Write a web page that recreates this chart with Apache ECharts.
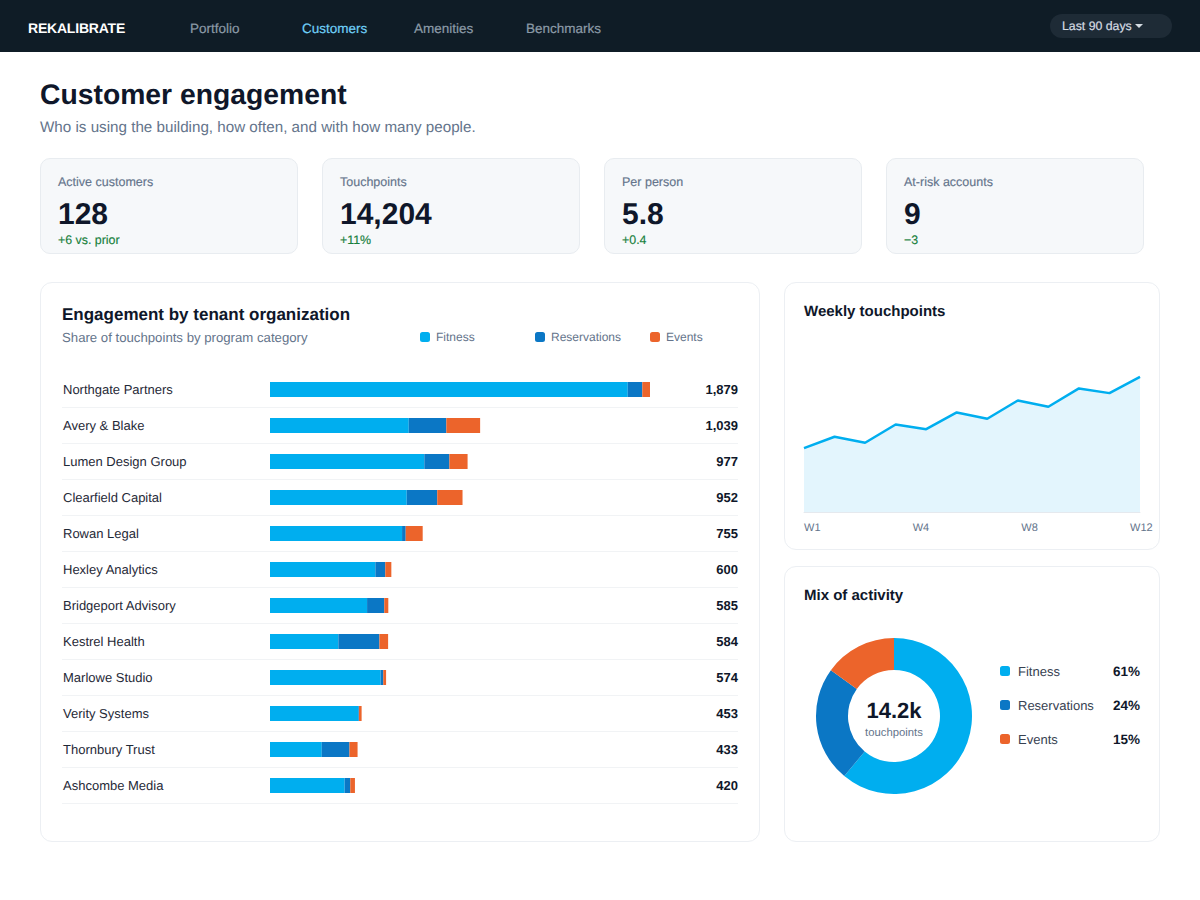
<!DOCTYPE html>
<html>
<head>
<meta charset="utf-8">
<title>Customer engagement</title>
<script src="https://cdn.jsdelivr.net/npm/echarts@6/dist/echarts.min.js"></script>
<style>
    html, body { margin: 0; padding: 0; background: #fff; }
    body { position: relative; width: 1200px; height: 900px; overflow: hidden; font-family: "Liberation Sans", Arial, sans-serif; color: #0f172a; text-rendering: geometricPrecision; }
    .abs { position: absolute; white-space: nowrap; }
    .nav { position: absolute; left: 0; top: 0; width: 1200px; height: 52px; background: #0f1c26; }
    .logo { left: 28px; top: 20px; font-size: 14px; line-height: 16px; font-weight: 700; color: #fff; letter-spacing: -0.2px; }
    .link { top: 21px; font-size: 13.5px; line-height: 15px; color: #8b9aa6; -webkit-text-stroke: 0.2px; }
    .link.on { color: #6fd0f7; }
    .pill { left: 1050px; top: 14px; width: 122px; height: 24px; border-radius: 12px; background: #1e2b36; }
    .pill span { position: absolute; left: 12px; top: 5px; font-size: 12.3px; line-height: 14px; color: #d5dce2; -webkit-text-stroke: 0.2px; }
    .pill i { position: absolute; left: 85px; top: 10px; width: 0; height: 0; border-left: 4px solid transparent; border-right: 4px solid transparent; border-top: 4px solid #d5dce2; }
    h1 { margin: 0; left: 40px; top: 78px; font-size: 28.3px; line-height: 32px; font-weight: 700; color: #0f172a; }
    .sub { left: 40px; top: 119px; font-size: 15.2px; line-height: 17px; color: #64748b; }
    .kpi { position: absolute; top: 158px; width: 256px; height: 94px; background: #f6f8fa; border: 1px solid #e8ecf0; border-radius: 10px; }
    .kpi .l { left: 17px; top: 16px; font-size: 12.5px; line-height: 14px; color: #64748b; -webkit-text-stroke: 0.15px; }
    .kpi .v { left: 17px; top: 39px; font-size: 30px; line-height: 34px; font-weight: 700; color: #0f172a; }
    .kpi .d { left: 17px; top: 74px; font-size: 12.4px; line-height: 14px; color: #16803c; -webkit-text-stroke: 0.15px; }
    .card { position: absolute; background: #fff; border: 1px solid #eceff3; border-radius: 12px; box-sizing: border-box; }
    .h2 { font-weight: 700; color: #0f172a; }
    .chart { position: absolute; }
</style>
</head>
<body>
<div class="nav">
    <div class="abs logo">REKALIBRATE</div>
    <div class="abs link" style="left:190px">Portfolio</div>
    <div class="abs link on" style="left:302px">Customers</div>
    <div class="abs link" style="left:414px">Amenities</div>
    <div class="abs link" style="left:526px">Benchmarks</div>
    <div class="abs pill"><span>Last 90 days</span><i></i></div>
</div>
<h1 class="abs">Customer engagement</h1>
<div class="abs sub">Who is using the building, how often, and with how many people.</div>

<div class="kpi" style="left:40px"><div class="abs l">Active customers</div><div class="abs v">128</div><div class="abs d">+6 vs. prior</div></div>
<div class="kpi" style="left:322px"><div class="abs l">Touchpoints</div><div class="abs v">14,204</div><div class="abs d">+11%</div></div>
<div class="kpi" style="left:604px"><div class="abs l">Per person</div><div class="abs v">5.8</div><div class="abs d">+0.4</div></div>
<div class="kpi" style="left:886px"><div class="abs l">At-risk accounts</div><div class="abs v">9</div><div class="abs d">−3</div></div>

<div class="card" style="left:40px;top:282px;width:720px;height:560px"></div>
<div class="card" style="left:784px;top:282px;width:376px;height:268px"></div>
<div class="card" style="left:784px;top:566px;width:376px;height:276px"></div>

<div class="abs h2" style="left:62px;top:305px;font-size:17px;line-height:20px">Engagement by tenant organization</div>
<div class="abs" style="left:62px;top:330px;font-size:13.2px;line-height:15px;color:#64748b">Share of touchpoints by program category</div>
<div class="abs h2" style="left:804px;top:303px;font-size:15px;line-height:18px">Weekly touchpoints</div>
<div class="abs h2" style="left:804px;top:587px;font-size:15px;line-height:18px">Mix of activity</div>

<div id="bars" class="chart" style="left:40px;top:282px;width:720px;height:560px"></div>
<div id="weekly" class="chart" style="left:784px;top:282px;width:376px;height:268px"></div>
<div id="mix" class="chart" style="left:784px;top:566px;width:376px;height:276px"></div>

<script>
var FONT = '"Liberation Sans", Arial, sans-serif';
var CYAN = '#00aeef', BLUE = '#0b77c5', ORANGE = '#ec642b';

// tenant rows
var tenants = ['Northgate Partners', 'Avery & Blake', 'Lumen Design Group', 'Clearfield Capital', 'Rowan Legal', 'Hexley Analytics',
    'Bridgeport Advisory', 'Kestrel Health', 'Marlowe Studio', 'Verity Systems', 'Thornbury Trust', 'Ashcombe Media'];
var totals = ['1,879', '1,039', '977', '952', '755', '600', '585', '584', '574', '453', '433', '420'];
var fitness = [1769, 686, 763, 676, 653, 521, 480, 338, 547, 437, 256, 369];
var reservations = [72, 186, 124, 151, 18, 49, 85, 203, 13, 3, 137, 28];
var events = [38, 167, 90, 125, 84, 30, 20, 43, 14, 13, 40, 23];

// weekly line
var weeks = ['W1', 'W2', 'W3', 'W4', 'W5', 'W6', 'W7', 'W8', 'W9', 'W10', 'W11', 'W12'];
var weekTicks = ['W1', 'W4', 'W8', 'W12'];
var touchpoints = [780, 918, 845, 1067, 1010, 1213, 1136, 1358, 1282, 1504, 1447, 1645];

// activity mix
var mixNames = ['Fitness', 'Reservations', 'Events'];
var mixShare = [61, 24, 15];

// svg renderer so the chart text follows the page's text-rendering
var barChart = echarts.init(document.getElementById('bars'), null, { renderer: 'svg' });
function barSeries(name, values, color) {
    return { name: name, type: 'bar', stack: 'total', barWidth: 15, data: values, itemStyle: { color: color }, silent: true };
}
barChart.setOption({
    animation: false,
    legend: {
        left: 380, top: 49, padding: 0, itemWidth: 10, itemHeight: 10, itemGap: 15, icon: 'roundRect',
        data: mixNames,
        formatter: function (name) { return '{t|' + name + '}{e|}'; },
        textStyle: {
            rich: {
                t: { fontFamily: FONT, fontSize: 12, color: '#64748b', width: 84, padding: [0, 0, 0, 1] },
                e: { width: 0 }
            }
        }
    },
    // the x scale runs below zero so the row rules can span the labels too
    grid: { left: 22, width: 676, top: 89.5, height: 432 },
    xAxis: { type: 'value', min: -1028.5, max: 2314.1, show: false },
    yAxis: [
        {
            type: 'category', inverse: true, data: tenants,
            axisLine: { show: false }, axisTick: { show: false },
            axisLabel: { inside: true, margin: 1, color: '#1f2937', fontFamily: FONT, fontSize: 13, padding: [2, 0, 0, 0] },
            splitLine: { show: true, showMinLine: false, lineStyle: { color: '#f1f3f5', width: 1 } }
        },
        {
            type: 'category', inverse: true, position: 'right', data: totals,
            axisLine: { show: false }, axisTick: { show: false },
            axisLabel: { inside: true, margin: 0, color: '#0f172a', fontFamily: FONT, fontSize: 13, fontWeight: 'bold', padding: [2, 0, 0, 0] },
            splitLine: { show: false }
        }
    ],
    series: [
        barSeries('Fitness', fitness, CYAN),
        barSeries('Reservations', reservations, BLUE),
        barSeries('Events', events, ORANGE)
    ]
});

var weekChart = echarts.init(document.getElementById('weekly'), null, { renderer: 'svg' });
weekChart.setOption({
    animation: false,
    // second grid only carries the tick labels, which sit on their own even spacing
    grid: [
        { left: 20, width: 336, top: 82, height: 148.5 },
        { left: 20, width: 326, top: 82, height: 148.5 }
    ],
    xAxis: [
        {
            type: 'category', boundaryGap: false, data: weeks, z: 5,
            axisLine: { lineStyle: { color: '#e5e9ee' } }, axisTick: { show: false }, axisLabel: { show: false }
        },
        {
            type: 'category', gridIndex: 1, boundaryGap: false, data: weekTicks,
            axisLine: { show: false }, axisTick: { show: false },
            axisLabel: { interval: 0, margin: 10, align: 'left', color: '#64748b', fontFamily: FONT, fontSize: 11 }
        }
    ],
    yAxis: [
        { type: 'value', min: 0, max: 1800, show: false },
        { type: 'value', gridIndex: 1, show: false }
    ],
    series: [{
        type: 'line', data: touchpoints, symbol: 'none', silent: true,
        lineStyle: { color: CYAN, width: 2.5 },
        areaStyle: { color: '#e3f5fd', opacity: 1 }
    }]
});

var mixChart = echarts.init(document.getElementById('mix'), null, { renderer: 'svg' });
var mixColors = [CYAN, BLUE, ORANGE];
mixChart.setOption({
    animation: false,
    legend: {
        orient: 'vertical', left: 216, top: 98, padding: 0, itemWidth: 10, itemHeight: 10, itemGap: 20, icon: 'roundRect',
        data: mixNames,
        formatter: function (name) {
            return '{n|' + name + '}{p|' + mixShare[mixNames.indexOf(name)] + '%}';
        },
        textStyle: {
            rich: {
                n: { fontFamily: FONT, fontSize: 13, color: '#374151', width: 94, height: 16, padding: [0, 0, 0, 3] },
                p: { fontFamily: FONT, fontSize: 13.5, color: '#0f172a', fontWeight: 'bold', width: 28, align: 'right' }
            }
        }
    },
    series: [{
        type: 'pie', center: [110, 150], radius: [46, 78], startAngle: 90, silent: true,
        label: { show: false }, labelLine: { show: false },
        data: mixNames.map(function (n, i) {
            return { name: n, value: mixShare[i], itemStyle: { color: mixColors[i] } };
        })
    }],
    title: {
        text: '14.2k', subtext: 'touchpoints', left: 110, top: 131, textAlign: 'center', itemGap: 3, padding: 0,
        textStyle: { fontFamily: FONT, fontSize: 22, fontWeight: 'bold', color: '#0f172a', lineHeight: 26 },
        subtextStyle: { fontFamily: FONT, fontSize: 11.3, color: '#64748b', lineHeight: 13 }
    }
});
</script>
</body>
</html>
